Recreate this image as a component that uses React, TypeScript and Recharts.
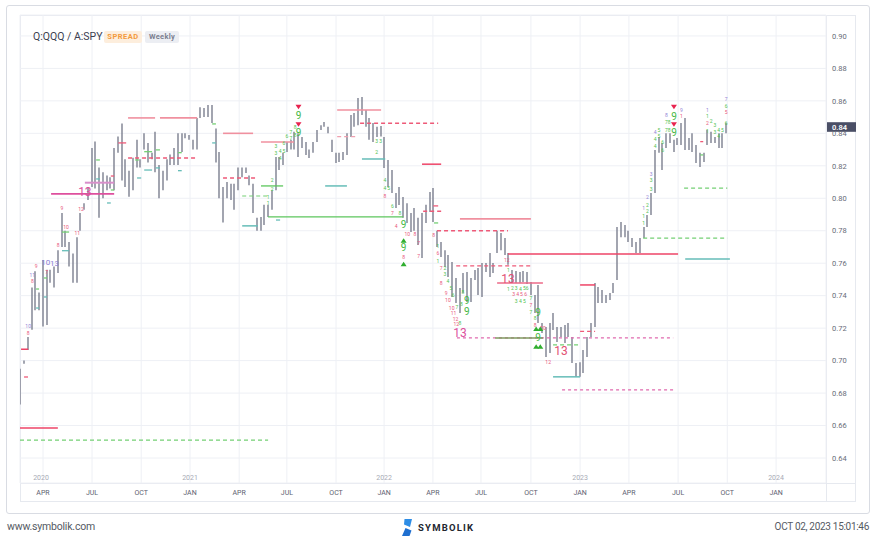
import React from 'react';
import { ComposedChart, Bar, XAxis, YAxis, CartesianGrid, ReferenceLine, Scatter } from 'recharts';

// Weekly bars (index = week since first bar, Feb 2020)
const highs = [
  0.695, 0.700, 0.7145, 0.745, 0.755, 0.742, 0.762, 0.756, 0.756, 0.758, 0.768, 0.791, 0.780, 0.773, 0.766, 0.776,
  0.791, 0.797, 0.807, 0.831, 0.835, 0.819, 0.816, 0.814, 0.813, 0.831, 0.838, 0.846, 0.824, 0.817, 0.825,
  0.836, 0.824, 0.840, 0.834, 0.828, 0.841, 0.8205, 0.817, 0.824, 0.827, 0.831, 0.840, 0.840, 0.840, 0.839, 0.836,
  0.8495, 0.856, 0.8556, 0.8575, 0.8575, 0.843, 0.8285, 0.807, 0.810, 0.809, 0.809, 0.819, 0.819, 0.819, 0.814, 0.809,
  0.788, 0.7885, 0.796, 0.796, 0.805, 0.8254, 0.8254, 0.828, 0.8347, 0.836, 0.841, 0.840, 0.8378, 0.8347, 0.830, 0.8347,
  0.842, 0.845, 0.847, 0.844, 0.836, 0.828, 0.828, 0.8285, 0.840, 0.8513, 0.8526, 0.8618, 0.8624, 0.8544, 0.8495, 0.8464,
  0.844, 0.8445, 0.8378, 0.8236, 0.8174, 0.8033, 0.807, 0.8008, 0.797, 0.791, 0.794, 0.788, 0.791, 0.796, 0.8039, 0.8063,
  0.780, 0.773, 0.768, 0.765, 0.7607, 0.7509, 0.7447, 0.754, 0.7546, 0.7509, 0.7558, 0.757, 0.7601, 0.7601, 0.7663, 0.7601,
  0.780, 0.7786, 0.7755, 0.7663, 0.7558, 0.7552, 0.7546, 0.7552, 0.7546, 0.7484, 0.7404, 0.7466, 0.7232, 0.7207, 0.7232, 0.7293,
  0.7207, 0.7207, 0.722, 0.7232, 0.7145, 0.6985, 0.699, 0.7065, 0.7145, 0.7232, 0.7478, 0.7453, 0.7435, 0.7404, 0.7417, 0.7478,
  0.7823, 0.7854, 0.7835, 0.780, 0.7755, 0.773, 0.7755, 0.7823, 0.7897, 0.8033, 0.8298, 0.8378, 0.834, 0.840, 0.840,
  0.836, 0.8372, 0.8464, 0.8495, 0.8372, 0.840, 0.8328, 0.828, 0.828, 0.842, 0.841, 0.8378, 0.840, 0.840, 0.8464,
];
const lows = [
  0.673, 0.698, 0.7065, 0.719, 0.731, 0.731, 0.721, 0.722, 0.748, 0.745, 0.754, 0.770, 0.770, 0.758, 0.748, 0.748,
  0.780, 0.793, 0.799, 0.807, 0.806, 0.788, 0.800, 0.805, 0.806, 0.805, 0.828, 0.811, 0.807, 0.801, 0.805,
  0.819, 0.819, 0.830, 0.822, 0.824, 0.816, 0.800, 0.805, 0.811, 0.8205, 0.8205, 0.8205, 0.8285, 0.837, 0.836, 0.830,
  0.830, 0.8495, 0.850, 0.850, 0.8464, 0.822, 0.800, 0.785, 0.800, 0.799, 0.793, 0.805, 0.813, 0.8156, 0.808, 0.791,
  0.780, 0.780, 0.7835, 0.7885, 0.793, 0.805, 0.8174, 0.8205, 0.8285, 0.830, 0.830, 0.8254, 0.831, 0.8267, 0.8248, 0.828,
  0.8347, 0.842, 0.844, 0.840, 0.8285, 0.8218, 0.8224, 0.8236, 0.8267, 0.8378, 0.844, 0.845, 0.8513, 0.844, 0.836, 0.8347,
  0.8378, 0.838, 0.8187, 0.807, 0.8033, 0.794, 0.7959, 0.788, 0.7848, 0.7792, 0.780, 0.7712, 0.7632, 0.7848, 0.7916, 0.7854,
  0.770, 0.7638, 0.7577, 0.7515, 0.7392, 0.7355, 0.7293, 0.7417, 0.7361, 0.7361, 0.7497, 0.7404, 0.7392, 0.7546, 0.7515, 0.754,
  0.7663, 0.768, 0.765, 0.759, 0.7478, 0.7478, 0.748, 0.7484, 0.7472, 0.7404, 0.7293, 0.7232, 0.717, 0.7022, 0.7047, 0.7189,
  0.7115, 0.7145, 0.7108, 0.7145, 0.6985, 0.690, 0.690, 0.6924, 0.7022, 0.7145, 0.7207, 0.7355, 0.7355, 0.7355, 0.7373, 0.7417,
  0.7497, 0.776, 0.776, 0.773, 0.770, 0.7663, 0.7663, 0.7755, 0.7823, 0.7897, 0.8033, 0.828, 0.8174, 0.831, 0.834,
  0.8285, 0.8328, 0.8328, 0.8298, 0.8298, 0.8285, 0.8218, 0.8193, 0.8224, 0.8328, 0.834, 0.834, 0.831, 0.831, 0.840,
];
const lastClose = 0.8439;

const monthTicks = [6.05, 19.1, 32.2, 45.2, 58.3, 71.0, 84.1, 96.9, 109.9, 122.7, 136.0, 149.1, 162.1, 175.2, 188.3, 201.3];
const monthLabels = ['APR', 'JUL', 'OCT', 'JAN', 'APR', 'JUL', 'OCT', 'JAN', 'APR', 'JUL', 'OCT', 'JAN', 'APR', 'JUL', 'OCT', 'JAN'];
const yearLabels = ['2020', '', '', '2021', '', '', '', '2022', '', '', '', '2023', '', '', '', '2024'];
const priceTicks = [0.64, 0.66, 0.68, 0.70, 0.72, 0.74, 0.76, 0.78, 0.80, 0.82, 0.84, 0.86, 0.88, 0.90];

// Level lines: [fromWeek, toWeek, value]
const redSolid = [[107.0, 112.1, 0.821], [129.9, 175.2, 0.7657], [149.1, 153.1, 0.7466], [0.2, 2.1, 0.707], [-0.08, 10.0, 0.6585]];
const lightRedSolid = [[28.7, 35.9, 0.8495], [37.2, 47.1, 0.8495], [54.0, 62.0, 0.840], [64.1, 72.9, 0.8347], [84.4, 96.1, 0.8544], [117.1, 136.0, 0.7873]];
const pinkSolid = [[127.0, 139.2, 0.7478]];
const redDashed = [[28.7, 47.3, 0.8248], [54.0, 63.3, 0.8125], [90.5, 111.3, 0.8462], [107.3, 112.1, 0.792], [111.0, 129.9, 0.780], [116.1, 136.0, 0.7583], [149.1, 153.1, 0.718]];
const pinkDashed = [[84.4, 89.7, 0.838]];
const magentaSolid = [[8.2, 25.0, 0.8027]];
const lilacSolid = [[17.2, 25.0, 0.8096]];
const magentaDashed = [[116.3, 173.9, 0.714], [144.3, 174.1, 0.682]];
const greenSolid = [[64.1, 70.0, 0.8076], [66.0, 102.0, 0.7885]];
const oliveSolid = [[126.5, 139.2, 0.714]];
const greenDashed = [[-0.08, 66.0, 0.651], [59.1, 66.0, 0.8014], [141.9, 149.1, 0.7097], [165.9, 188.3, 0.7755], [176.8, 188.3, 0.8063]];
const tealSolid = [[59.1, 63.3, 0.783], [81.2, 87.0, 0.8076], [141.9, 149.1, 0.690], [177.1, 189.0, 0.7626], [91.0, 97.2, 0.8242]];
const tealTicks = [[4.2, 5.0, 0.7324], [6.3, 7.1, 0.7392], [11.1, 13.0, 0.7677], [23.1, 24.1, 0.7971], [20.2, 21.2, 0.8119], [33.0, 35.1, 0.8174], [36.1, 37.2, 0.8187], [42.0, 43.0, 0.817], [51.1, 52.1, 0.8341], [31.1, 32.2, 0.8125], [68.1, 69.2, 0.7866]];
const greenTicks = [[6.3, 7.1, 0.7509], [11.1, 13.0, 0.7792], [20.2, 21.2, 0.8236], [24.1, 25.0, 0.8051], [4.2, 5.0, 0.7441], [33.0, 35.1, 0.8287], [36.1, 37.2, 0.8298], [42.0, 43.0, 0.8281], [51.1, 52.1, 0.8458], [30.6, 31.6, 0.8236], [110.2, 111.3, 0.7848], [181.1, 181.9, 0.8267]];
const redTicks = [[1.0, 2.05, 0.6899], [26.1, 28.2, 0.8341], [24.1, 25.0, 0.8137], [110.0, 111.3, 0.7953], [181.1, 181.9, 0.8349]];

// Count annotations: [week, value, text]
const greenCounts: [number, number, string][] = [
  [66.0, 0.8008, '1'], [66.0, 0.7971, '1'], [67.1, 0.8113, '2'], [67.1, 0.8058, '2'], [68.1, 0.8322, '3'], [68.1, 0.8279, '3'],
  [69.2, 0.8248, '4'], [69.2, 0.8292, '4'], [70.2, 0.8292, '5'], [70.2, 0.8341, '6'], [71.0, 0.8384, '6'], [72.1, 0.8409, '7'],
  [72.1, 0.8372, '7'], [73.2, 0.8439, '8'], [73.2, 0.839, '8'],
  [94.9, 0.8349, '3'], [94.9, 0.8282, '2'], [96.0, 0.8349, '3'], [97.1, 0.8109, '4'], [97.1, 0.8062, '4'], [98.1, 0.806, '5'],
  [99.1, 0.7949, '6'], [101.1, 0.7908, '8'], [111.2, 0.7702, '1'], [111.2, 0.7614, '1'],
  [113.1, 0.7571, '2'], [113.1, 0.7534, '3'], [113.9, 0.7491, '4'], [114.7, 0.7448, '5'], [115.3, 0.7404, '6'], [116.3, 0.733, '7'],
  [117.1, 0.7232, '8'], [117.9, 0.7423, '8'], [117.5, 0.7345, '8'],
  [130.0, 0.7559, '1'], [130.0, 0.7442, '1'], [131.1, 0.7446, '2'], [132.1, 0.7446, '3'], [133.2, 0.7442, '4'], [134.3, 0.7446, '5'],
  [135.0, 0.7446, '6'], [132.1, 0.7368, '3'], [133.2, 0.7368, '4'], [134.3, 0.7368, '5'], [136.0, 0.7387, '7'], [136.0, 0.73, '7'],
  [137.1, 0.7263, '8'],
  [166.0, 0.7887, '1'], [166.0, 0.7846, '1'], [167.0, 0.7959, '2'], [167.0, 0.7918, '2'], [168.0, 0.8109, '3'], [168.0, 0.8056, '3'],
  [169.1, 0.8364, '4'], [169.1, 0.8322, '4'], [170.1, 0.8421, '5'], [170.1, 0.838, '5'], [171.1, 0.8343, '6'], [171.1, 0.8298, '6'],
  [172.1, 0.8469, '7'], [172.8, 0.8469, '8'], [172.1, 0.8421, '7'], [172.8, 0.8421, '8'],
  [183.0, 0.8503, '1'], [183.0, 0.8415, '1'], [184.0, 0.8472, '2'], [185.0, 0.8452, '3'], [185.0, 0.8407, '3'], [186.0, 0.8421, '4'],
  [186.0, 0.838, '4'], [187.0, 0.8421, '5'], [188.0, 0.8462, '6'], [188.0, 0.8569, '6'],
];
const redCounts: [number, number, string][] = [
  [2.1, 0.7169, '8'], [3.2, 0.7487, '8'], [4.2, 0.7579, '9'], [7.0, 0.7545, '7'], [10.1, 0.7713, '8'], [11.1, 0.7939, '9'],
  [12.2, 0.7819, '10'], [15.2, 0.7785, '11'], [16.2, 0.7934, '12'],
  [97.1, 0.8015, '8'], [99.1, 0.7908, '7'], [100.1, 0.7826, '4'], [103.1, 0.7779, '10'], [105.1, 0.7779, '8'], [106.1, 0.7724, '7'],
  [102.1, 0.7638, '8'], [106.1, 0.7641, '7'], [110.1, 0.777, '8'], [111.2, 0.7661, '6'],
  [112.1, 0.7478, '8'], [113.4, 0.7417, '9'], [113.9, 0.7374, '10'], [114.9, 0.7325, '10'], [115.4, 0.7292, '11'], [115.9, 0.7252, '12'],
  [116.1, 0.7222, '12'], [112.1, 0.7571, '7'],
  [129.6, 0.762, '12'], [131.4, 0.7407, '3'], [132.5, 0.7407, '4'], [133.5, 0.7407, '5'], [134.6, 0.7407, '6'], [136.0, 0.7343, '7'],
  [137.1, 0.722, '8'], [139.2, 0.7201, '10'], [140.6, 0.6992, '12'],
  [176.1, 0.8507, '1'], [183.0, 0.8462, '2'], [188.0, 0.8528, '5'],
];
const purpleCounts: [number, number, string][] = [
  [2.1, 0.7215, '10'], [3.2, 0.7529, '11'],
  [166.0, 0.7938, '1'], [167.0, 0.8006, '2'], [168.0, 0.8148, '3'], [169.1, 0.8407, '4'], [172.1, 0.8509, '8'], [176.1, 0.8544, '9'],
  [183.0, 0.8544, '1'], [188.0, 0.8612, '7'],
];
const purpleMid: [number, number, string][] = [[6.8, 0.7604, '10'], [9.1, 0.760, '13']];
const bigNines = [[74.1, 0.8509], [74.1, 0.8404], [102.1, 0.784], [102.1, 0.7696], [118.9, 0.7368], [118.9, 0.7302], [137.9, 0.7296], [137.9, 0.714], [174.1, 0.8507], [174.1, 0.8404]];
const downArrows = [[74.1, 0.8564], [74.1, 0.8456], [174.1, 0.8564], [174.1, 0.8456]];
const upArrows = [[102.1, 0.7739], [102.1, 0.7594], [137.4, 0.7195], [138.5, 0.7195], [137.4, 0.7086], [138.5, 0.7086]];
const magentaThirteens = [[17.2, 0.8041], [117.1, 0.7172]];
const redThirteens = [[129.9, 0.7505], [144.0, 0.7061]];

const bars = highs.map((h, i) => ({ i, range: [lows[i], h] }));
const toPts = (arr: any[]) => arr.map((a) => ({ i: a[0], v: a[1], t: a[2] ?? '' }));

const FONT = 'Roboto, "Noto Sans", sans-serif';

const OhlcShape = (props: any) => {
  const { x, y, width, height } = props;
  if (x == null || y == null) return null;
  const cx = Math.round(x + width / 2);
  const y1 = Math.min(y, y + height);
  const y2 = Math.max(y, y + height, y1 + 1);
  return <line x1={cx} x2={cx} y1={y1} y2={y2} stroke="#7b7f8f" strokeWidth={1.4} />;
};

const textShape = (color: string, size: number, weight = 400) => (props: any) => {
  const { cx, cy, payload } = props;
  if (cx == null) return null;
  return (
    <text x={cx} y={cy} dy={size * 0.36} textAnchor="middle" fontSize={size} fill={color} fontFamily={FONT} fontWeight={weight}>
      {payload.t}
    </text>
  );
};
const nineShape = (color: string, size: number, label: string) => (props: any) => {
  const { cx, cy } = props;
  if (cx == null) return null;
  return (
    <text x={cx} y={cy} dy={size * 0.36} textAnchor="middle" fontSize={size} fill={color} fontFamily={FONT}>
      {label}
    </text>
  );
};
const triShape = (color: string, down: boolean) => (props: any) => {
  const { cx, cy } = props;
  if (cx == null) return null;
  const d = down
    ? `M${cx - 3},${cy - 2} L${cx + 3},${cy - 2} L${cx},${cy + 2.5} Z`
    : `M${cx - 3},${cy + 2} L${cx + 3},${cy + 2} L${cx},${cy - 2.5} Z`;
  return <path d={d} fill={color} />;
};

const MonthTick = (props: any) => {
  const { x, payload } = props;
  const k = monthTicks.indexOf(payload.value);
  const label = monthLabels[k] ?? '';
  const yr = yearLabels[k] ?? '';
  return (
    <g>
      {yr ? (
        <text x={x - (k === 0 ? 2 : 0)} y={479.5} textAnchor="middle" fontSize={7} fill="#a7abb6" fontFamily={FONT}>
          {yr}
        </text>
      ) : null}
      <text x={x} y={494.5} textAnchor="middle" fontSize={7} fill="#5d6170" fontFamily={FONT}>
        {label}
      </text>
    </g>
  );
};

const PriceTick = (props: any) => {
  const { y, payload } = props;
  return (
    <text x={832} y={y} dy={2.7} fontSize={7.5} fill="#686c78" fontFamily={FONT}>
      {Number(payload.value).toFixed(2)}
    </text>
  );
};

const BadgeLabel = (props: any) => {
  const vb = props.viewBox || {};
  const x = (vb.x ?? 0) + (vb.width ?? 0) + 1;
  const y = vb.y ?? 0;
  return (
    <g>
      <rect x={x} y={y - 4.8} width={29} height={9.6} fill="#4a4f66" />
      <text x={x + 5} y={y} dy={2.8} fontSize={7.5} fill="#ffffff" fontFamily={FONT} fontWeight={600}>
        {lastClose.toFixed(2)}
      </text>
    </g>
  );
};

const segLines = (arr: number[][], color: string, width: number, dash?: string, key = 'l') =>
  arr.map((s, n) => (
    <ReferenceLine
      key={`${key}${n}`}
      segment={[{ x: s[0], y: s[2] }, { x: s[1], y: s[2] }]}
      stroke={color}
      strokeWidth={width}
      strokeDasharray={dash}
      ifOverflow="visible"
    />
  ));

export default function App() {
  return (
    <div style={{ position: 'absolute', left: 0, top: 0, width: 876, height: 539, background: '#ffffff', overflow: 'hidden' }}>
      {/* frames */}
      <div style={{ position: 'absolute', left: 6, top: 5, width: 862, height: 507, border: '1px solid #d9dce3', borderRadius: 3 }} />
      <div style={{ position: 'absolute', left: 20, top: 15, width: 836, height: 487, border: '1px solid #e6e9ef', boxSizing: 'border-box' }} />
      <div style={{ position: 'absolute', left: 20, top: 483, width: 836, height: 1, background: '#e6e9ef' }} />
      <div style={{ position: 'absolute', left: 826, top: 15, width: 1, height: 487, background: '#e6e9ef' }} />

      <div style={{ position: 'absolute', left: 0, top: 0 }}>
        <ComposedChart width={876} height={539} data={bars} margin={{ top: 15, left: 20, right: 20, bottom: 37 }}>
          <CartesianGrid stroke="#eef0f5" strokeWidth={1} />
          <XAxis
            dataKey="i"
            type="number"
            domain={[-0.08, 214.6]}
            allowDataOverflow
            ticks={monthTicks}
            interval={0}
            height={19}
            axisLine={false}
            tickLine={false}
            tick={<MonthTick />}
          />
          <YAxis
            orientation="right"
            type="number"
            domain={[0.6246, 0.9129]}
            allowDataOverflow
            ticks={priceTicks}
            interval={0}
            width={30}
            axisLine={false}
            tickLine={false}
            tick={<PriceTick />}
          />
          {segLines(greenDashed, '#74cf74', 1.2, '4 3', 'gd')}
          {segLines(magentaDashed, '#e06aae', 1.3, '3 3', 'md')}
          {segLines(redDashed, '#ee5a78', 1.3, '4 3', 'rd')}
          {segLines(pinkDashed, '#f0a0b0', 1.3, '4 3', 'pd')}
          {segLines(lightRedSolid, '#f0909f', 1.6, undefined, 'lr')}
          {segLines(pinkSolid, '#ec6a88', 1.5, undefined, 'ps')}
          {segLines(redSolid, '#ee4467', 1.5, undefined, 'rs')}
          {segLines(magentaSolid, '#de4f9e', 1.6, undefined, 'ms')}
          {segLines(lilacSolid, '#d88fcb', 2, undefined, 'ls')}
          {segLines(greenSolid, '#5cc65c', 1.3, undefined, 'gs')}
          {segLines(oliveSolid, '#7e9a5e', 1.5, undefined, 'os')}
          {segLines(tealSolid, '#66bdb8', 1.5, undefined, 'ts')}
          {segLines(tealTicks, '#66bdb8', 1.3, undefined, 'tt')}
          {segLines(greenTicks, '#74cf74', 1.3, undefined, 'gt')}
          {segLines(redTicks, '#ee5a78', 1.3, undefined, 'rt')}
          <Bar dataKey="range" barSize={2} shape={<OhlcShape />} isAnimationActive={false} />
          <Scatter data={toPts(greenCounts)} dataKey="v" shape={textShape('#4fc24f', 5)} isAnimationActive={false} />
          <Scatter data={toPts(redCounts)} dataKey="v" shape={textShape('#e8577c', 5)} isAnimationActive={false} />
          <Scatter data={toPts(purpleCounts)} dataKey="v" shape={textShape('#9386d6', 5)} isAnimationActive={false} />
          <Scatter data={toPts(purpleMid)} dataKey="v" shape={textShape('#8c80d4', 8)} isAnimationActive={false} />
          <Scatter data={toPts(bigNines)} dataKey="v" shape={nineShape('#45b845', 10, '9')} isAnimationActive={false} />
          <Scatter data={toPts(magentaThirteens)} dataKey="v" shape={nineShape('#dc4f9c', 12, '13')} isAnimationActive={false} />
          <Scatter data={toPts(redThirteens)} dataKey="v" shape={nineShape('#e24f72', 12, '13')} isAnimationActive={false} />
          <Scatter data={toPts(downArrows)} dataKey="v" shape={triShape('#e8234f', true)} isAnimationActive={false} />
          <Scatter data={toPts(upArrows)} dataKey="v" shape={triShape('#2fae2f', false)} isAnimationActive={false} />
          <ReferenceLine y={lastClose} stroke="none" ifOverflow="visible" label={<BadgeLabel />} />
        </ComposedChart>
      </div>

      {/* header */}
      <div style={{ position: 'absolute', left: 33, top: 30, fontFamily: FONT, fontSize: 10.5, color: '#3c4050', whiteSpace: 'nowrap', lineHeight: '13px' }}>
        Q:QQQ / A:SPY
      </div>
      <div style={{ position: 'absolute', left: 104, top: 31, width: 38, height: 12, background: '#fdeedd', borderRadius: 2, color: '#f39a3c', fontFamily: FONT, fontSize: 7.5, fontWeight: 700, letterSpacing: 0.5, textAlign: 'center', lineHeight: '12px' }}>
        SPREAD
      </div>
      <div style={{ position: 'absolute', left: 145, top: 31, width: 34, height: 12, background: '#eceef3', borderRadius: 2, color: '#7b8090', fontFamily: FONT, fontSize: 7.5, fontWeight: 700, letterSpacing: 0.3, textAlign: 'center', lineHeight: '12px' }}>
        Weekly
      </div>

      {/* footer */}
      <div style={{ position: 'absolute', left: 7, top: 520, fontFamily: FONT, fontSize: 10.5, color: '#555a63', whiteSpace: 'nowrap', lineHeight: '14px', letterSpacing: -0.2 }}>
        www.symbolik.com
      </div>
      <div style={{ position: 'absolute', right: 7, top: 520, fontFamily: FONT, fontSize: 10, color: '#555a63', whiteSpace: 'nowrap', lineHeight: '14px', letterSpacing: -0.3, textAlign: 'right' }}>
        OCT 02, 2023 15:01:46
      </div>
      <svg style={{ position: 'absolute', left: 400, top: 516 }} width={80} height={22}>
        <polygon points="4.5,3 12,3 10,11 4,8.5" fill="#2d8de6" />
        <polygon points="5.5,12 11.5,14.5 9.5,20 2,20" fill="#1f6fd0" />
        <text x={18} y={15} fontSize={9.5} fontWeight={700} fill="#23262f" fontFamily={FONT} letterSpacing={1.2}>
          SYMBOLIK
        </text>
      </svg>
    </div>
  );
}
